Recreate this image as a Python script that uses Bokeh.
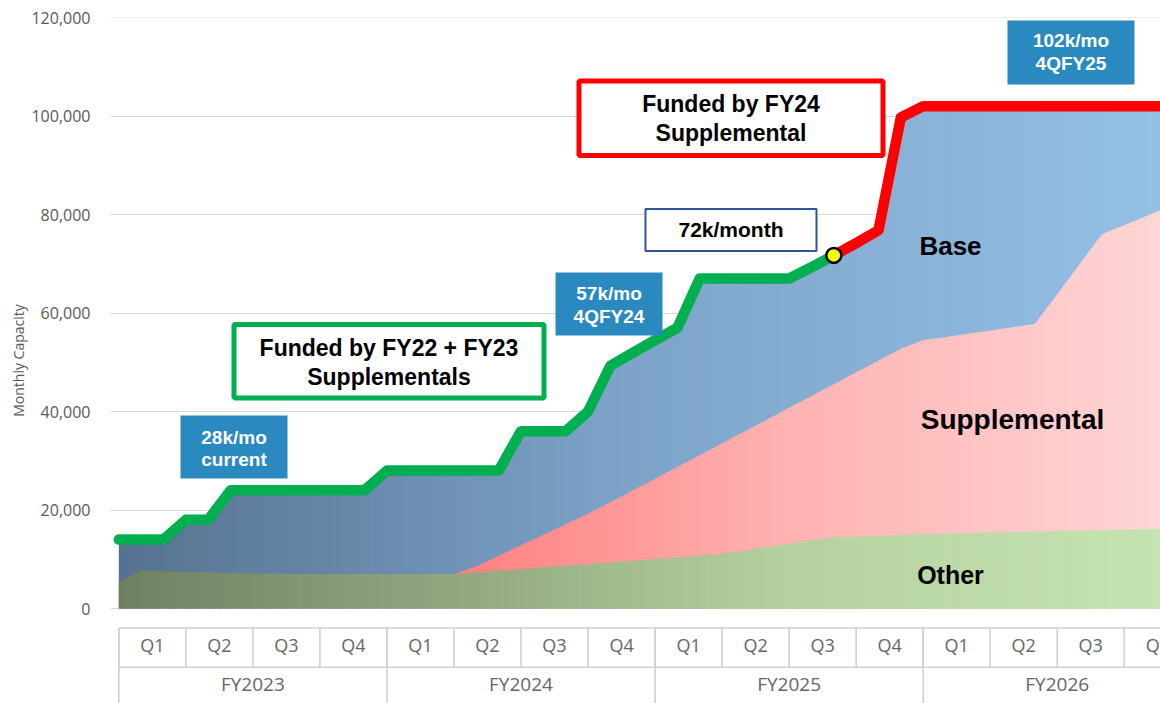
import numpy as np
from bokeh.plotting import figure
from bokeh.models import (Range1d, FixedTicker, NumeralTickFormatter, BoxAnnotation,
                          Label, ColumnDataSource)
from bokeh.embed import file_html
from bokeh.resources import INLINE
from bokeh.core.properties import value

# ---------------- data (monthly, month 0 = start of FY2023 Q1) ----------------
months = list(range(48))
quarter_labels = ["Q1", "Q2", "Q3", "Q4"] * 4
fiscal_years = ["FY2023", "FY2024", "FY2025", "FY2026"]
y_ticks = [0, 20000, 40000, 60000, 80000, 100000, 120000]

other = [5300, 7700, 7550, 7400, 7300, 7200, 7100, 7050, 7000, 7000, 7000, 7000,
         7000, 7000, 7000, 7000, 7300, 7650, 8000, 8350, 8700, 9000, 9350, 9700,
         10050, 10400, 10750, 11100, 11750, 12450, 13150, 13850, 14400, 14550, 14750, 14900,
         15100, 15200, 15300, 15400, 15500, 15600, 15700, 15800, 15900, 16000, 16100, 16200]
supplemental = [0, 0, 0, 0, 0, 0, 0, 0, 0, 0, 0, 0,
                0, 0, 0, 0, 1250, 3050, 4850, 6600, 8400, 10250, 12200, 14250,
                16300, 18350, 20400, 22450, 24200, 25900, 27600, 29300, 31150, 33400, 35600, 37850,
                39400, 39900, 40500, 41000, 41600, 42200, 48100, 54100, 60100, 61800, 63600, 65400]
base = [8700, 6300, 6450, 10600, 10700, 16800, 16900, 16950, 17000, 17000, 17000, 17000,
        21000, 21000, 21000, 21000, 19450, 17300, 23150, 21050, 18900, 20750, 27750, 27950,
        28150, 28250, 35850, 33450, 31050, 28650, 26250, 26150, 26150, 26250, 26450, 46950,
        47500, 46900, 46200, 45600, 44900, 44200, 38200, 32100, 26000, 24200, 22300, 20400]
fy24_funding_start = 32   # month where FY24-supplemental funding (red) begins

x = np.array(months, dtype=float)
top_other = np.array(other, dtype=float)
top_supp = top_other + np.array(supplemental, dtype=float)
total = top_supp + np.array(base, dtype=float)

# ---------------- layout helpers (page pixels -> data space for annotations) ----------------
def mx(px):
    return (px - 118.3) / 22.344

def vy(py):
    return (608.0 - py) * 203.05

p = figure(width=1160, height=703, output_backend="svg", toolbar_location=None,
           x_range=Range1d(mx(110), mx(1160)), y_range=Range1d(vy(703), vy(17)),
           x_axis_location=None, min_border_left=110, min_border_right=0,
           min_border_top=17, min_border_bottom=0)
p.outline_line_color = None
p.background_fill_color = "white"
p.border_fill_color = "white"
p.xgrid.visible = False

p.yaxis.ticker = FixedTicker(ticks=y_ticks)
p.yaxis.formatter = NumeralTickFormatter(format="0,0")
p.yaxis.axis_label = "Monthly Capacity"
p.yaxis.axis_label_text_font = "Open Sans"
p.yaxis.axis_label_text_font_style = "normal"
p.yaxis.axis_label_text_font_size = "14px"
p.yaxis.axis_label_text_color = "#595959"
p.yaxis.axis_label_standoff = 0
p.yaxis.major_label_text_font = "Open Sans"
p.yaxis.major_label_text_font_size = "16px"
p.yaxis.major_label_text_color = "#595959"
p.yaxis.major_label_standoff = 14
p.yaxis.axis_line_color = None
p.yaxis.major_tick_line_color = None
p.yaxis.minor_tick_line_color = None
p.ygrid.grid_line_color = "#d9d9d9"
p.ygrid.grid_line_width = 1


# ---------------- gradient-filled areas (vertical strips) ----------------
def color_at(m, stops):
    ms = [s[0] for s in stops]
    rgb = [np.interp(m, ms, [s[1][k] for s in stops]) for k in range(3)]
    return "#%02x%02x%02x" % tuple(int(round(v)) for v in rgb)


def gradient_area(lo, hi, start, stop, stops):
    xs_l, ys_l, cols = [], [], []
    edges = np.arange(start, stop + 1e-9, 0.25)
    for a, b in zip(edges[:-1], edges[1:]):
        bb = min(b + 0.05, stop)
        pts = np.array([a] + [m for m in months if a < m < bb] + [bb], dtype=float)
        lo_v = np.interp(pts, x, lo)
        hi_v = np.interp(pts, x, hi)
        xs_l.append(np.concatenate([pts, pts[::-1]]))
        ys_l.append(np.concatenate([lo_v, hi_v[::-1]]))
        cols.append(color_at((a + b) / 2, stops))
    src = ColumnDataSource(dict(xs=xs_l, ys=ys_l, c=cols))
    p.patches("xs", "ys", source=src, fill_color="c", line_color=None)


zeros = np.zeros_like(x)
blue_stops = [(-0.4, (86, 113, 143)), (22, (124, 162, 199)), (46.6, (149, 192, 230))]
pink_stops = [(15, (255, 128, 128)), (30, (255, 178, 178)), (46.6, (255, 213, 213))]
green_stops = [(-0.4, (110, 128, 97)), (15, (146, 167, 128)), (30, (180, 209, 159)),
               (46.6, (198, 228, 178))]
gradient_area(zeros, total, 0, 47, blue_stops)
gradient_area(zeros, top_supp, 15, 47, pink_stops)
gradient_area(zeros, top_other, 0, 47, green_stops)

# ---------------- total capacity line ----------------
k = fy24_funding_start
p.line(x[:k + 1], total[:k + 1], line_color="#00b050", line_width=10.5,
       line_cap="round", line_join="round")
p.line(x[k:], total[k:], line_color="#ff0000", line_width=10.5,
       line_cap="round", line_join="round")
p.scatter([x[k]], [total[k]], size=15, fill_color="#ffff00", line_color="black",
          line_width=2.5)

# ---------------- category table under the chart ----------------
tbl_top, tbl_mid, tbl_bot = vy(627.5), vy(666.7), vy(703)
line_c = "#d0d0d0"
p.segment(x0=[0], y0=[tbl_top], x1=[48], y1=[tbl_top], line_color=line_c, line_width=1.6)
p.segment(x0=[0], y0=[tbl_mid], x1=[48], y1=[tbl_mid], line_color=line_c, line_width=1.6)
q_edges = [3 * i for i in range(len(quarter_labels) + 1)]
p.segment(x0=q_edges, y0=[tbl_top] * len(q_edges), x1=q_edges, y1=[tbl_mid] * len(q_edges),
          line_color=line_c, line_width=1.6)
fy_edges = [12 * i for i in range(len(fiscal_years) + 1)]
p.segment(x0=fy_edges, y0=[tbl_top] * len(fy_edges), x1=fy_edges, y1=[tbl_bot] * len(fy_edges),
          line_color=line_c, line_width=1.6)

q_centers = [3 * i + 1.5 for i in range(len(quarter_labels))]
p.text(x=q_centers, y=[vy(644.8)] * len(q_centers), text=quarter_labels,
       text_font=value("Open Sans"), text_font_size="18px", text_color="#666666",
       text_align="center", text_baseline="alphabetic")
fy_centers = [12 * i + 6 for i in range(len(fiscal_years))]
p.text(x=fy_centers, y=[vy(683.3)] * len(fy_centers), text=fiscal_years,
       text_font=value("Open Sans"), text_font_size="19px", text_color="#666666",
       text_align="center", text_baseline="alphabetic")

# ---------------- callouts ----------------
FONT = "Liberation Sans"
BLUE_BOX = "#2a8ac0"


def box(x0, x1, y0, y1, fill, line=None, lw=0):
    p.add_layout(BoxAnnotation(left=mx(x0), right=mx(x1), top=vy(y0), bottom=vy(y1),
                               fill_color=fill, fill_alpha=1.0,
                               line_color=line, line_width=lw, line_alpha=1.0 if line else 0))


def label(cx, cy, text, size, color="black"):
    p.add_layout(Label(x=mx(cx), y=vy(cy), text=text, text_align="center",
                       text_baseline="alphabetic", text_font=FONT, text_font_style="bold",
                       text_font_size=size, text_color=color))


box(180, 287, 415, 478, BLUE_BOX)
label(233.5, 436.8, "28k/mo", "19px", "white")
label(233.5, 458.7, "current", "19px", "white")

box(233.5, 543.5, 324, 397.5, "white", "#00b050", 5)
label(388.5, 347, "Funded by FY22 + FY23", "23px")
label(388.5, 376.3, "Supplementals", "23px")

box(555, 662, 272, 335, BLUE_BOX)
label(608.5, 293, "57k/mo", "19px", "white")
label(608.5, 315.7, "4QFY24", "19px", "white")

box(645, 816, 208.5, 250.5, "white", "#2f5597", 2)
label(730.5, 229.3, "72k/month", "21px")

box(578.5, 882.5, 80.5, 155, "white", "#ff0000", 5)
label(730.5, 103.7, "Funded by FY24", "23px")
label(730.5, 132, "Supplemental", "23px")

box(1007, 1134, 20, 84, BLUE_BOX)
label(1070.5, 40.2, "102k/mo", "19px", "white")
label(1070.5, 62.8, "4QFY25", "19px", "white")

label(950, 245.7, "Base", "26px")
label(1012, 419, "Supplemental", "28px")
label(950, 574, "Other", "25px")

open("out.html", "w").write(file_html(p, INLINE))
